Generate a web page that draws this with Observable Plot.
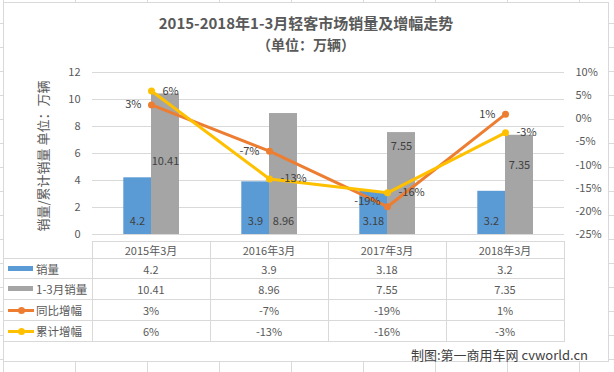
<!DOCTYPE html>
<html>
<head>
<meta charset="utf-8">
<script src="https://cdn.jsdelivr.net/npm/d3@7"></script>
<script src="https://cdn.jsdelivr.net/npm/@observablehq/plot@0.6"></script>
<style>
  html, body { margin: 0; padding: 0; }
  body {
    width: 614px; height: 372px; position: relative; overflow: hidden;
    background-color: #fff;
    background-image: linear-gradient(to right, #dadada 1px, transparent 1px),
                      linear-gradient(to bottom, #dadada 1px, transparent 1px);
    background-size: 72px 24px;
    background-position: 3px 23px;
    font-family: "Noto Sans CJK SC", "Noto Sans", sans-serif;
  }
  #frame { position: absolute; left: 3px; top: 2px; width: 604px; height: 358px; border: 1px solid #d9d9d9; background: #fff; }
  #title { position: absolute; left: 3px; width: 606px; top: 13px; text-align: center; font-size: 15px; font-weight: 700; color: #595959; line-height: 20px; }
  #subtitle { position: absolute; left: 3px; width: 606px; top: 34px; text-align: center; font-size: 14px; font-weight: 700; color: #595959; line-height: 20px; }
  #ytitle { position: absolute; left: 43px; top: 156px; width: 0; height: 0; }
  #ytitle span { position: absolute; left: 0; top: 0; transform: translate(-50%, -50%) rotate(-90deg); white-space: nowrap; font-size: 13px; color: #595959; line-height: 16px; }
  #chart { position: absolute; left: 0; top: 55px; }
  #footer { position: absolute; right: 26px; top: 346px; font-size: 13px; color: #404040; line-height: 18px; }
  .hl { position: absolute; height: 1px; background: #d9d9d9; }
  .vl { position: absolute; width: 1px; background: #d9d9d9; }
  .cell { position: absolute; text-align: center; font-size: 11px; color: #595959; line-height: 16px; white-space: nowrap; }
  .leg { position: absolute; font-size: 11.5px; color: #595959; line-height: 16px; white-space: nowrap; }
</style>
</head>
<body>
<div id="frame"></div>
<div id="title">2015-2018年1-3月轻客市场销量及增幅走势</div>
<div id="subtitle">（单位：万辆）</div>
<div id="chart"></div>
<div id="ytitle"><span>销量/累计销量 单位：万辆</span></div>
<div id="table"></div>
<div id="footer">制图:第一商用车网 cvworld.cn</div>
<script>
// ---- data ----
const categories = ["2015年3月", "2016年3月", "2017年3月", "2018年3月"];
const sales = [4.2, 3.9, 3.18, 3.2];            // 销量
const ytdSales = [10.41, 8.96, 7.55, 7.35];      // 1-3月销量
const yoyGrowth = [3, -7, -19, 1];               // 同比增幅 (%)
const ytdGrowth = [6, -13, -16, -3];             // 累计增幅 (%)
const leftTicks = [0, 2, 4, 6, 8, 10, 12];
const rightTicks = [10, 5, 0, -5, -10, -15, -20, -25];
const seriesNames = ["销量", "1-3月销量", "同比增幅", "累计增幅"];
// where the bar value labels sit in the reference (in 万辆 units)
const salesLabelAt = [1, 1, 1, 1];
const ytdLabelAt = [5.4, 1, 6.54, 5.1];

const colors = { sales: "#5B9BD5", ytd: "#A5A5A5", yoy: "#ED7D31", ytdG: "#FFC000" };

const pctMin = -25, pctMax = 10, leftMax = 12;
const pctToLeft = p => (p - pctMin) / (pctMax - pctMin) * leftMax;
const leftToPct = v => v / leftMax * (pctMax - pctMin) + pctMin;

const rows = categories.map((c, i) => ({
  cat: c, sales: sales[i], ytd: ytdSales[i], yoy: yoyGrowth[i], ytdG: ytdGrowth[i],
  sl: salesLabelAt[i], yl: ytdLabelAt[i]
}));

const labelFont = 11, labelFill = "#404040";

const plot = Plot.plot({
  width: 614, height: 190,
  marginLeft: 92, marginRight: 50, marginTop: 17, marginBottom: 11,
  style: { fontFamily: "'Noto Sans CJK SC', 'Noto Sans', sans-serif", background: "transparent", overflow: "visible" },
  x: { type: "band", domain: categories, padding: 0, axis: null },
  y: { domain: [0, leftMax], axis: null },
  marks: [
    Plot.gridY(leftTicks, { stroke: "#d9d9d9", strokeOpacity: 1 }),
    Plot.axisY(leftTicks, { anchor: "left", tickSize: 0, tickPadding: 12, fontSize: 11, color: "#595959", label: null, tickFormat: d => String(d) }),
    Plot.axisY(rightTicks.map(pctToLeft), { anchor: "right", tickSize: 0, tickPadding: 11, fontSize: 11, color: "#595959", label: null, tickFormat: v => `${Math.round(leftToPct(v))}%` }),
    Plot.barY(rows, { x: "cat", y: "sales", fill: colors.sales, insetLeft: 31.3, insetRight: 59 }),
    Plot.barY(rows, { x: "cat", y: "ytd", fill: colors.ytd, insetLeft: 59, insetRight: 31 }),
    Plot.text(rows, { x: "cat", y: "sl", text: d => String(d.sales), dx: -14, fontSize: labelFont, fill: labelFill }),
    Plot.text(rows, { x: "cat", y: "yl", text: d => String(d.ytd), dx: 14, fontSize: labelFont, fill: labelFill }),
    Plot.line(rows, { x: "cat", y: d => pctToLeft(d.yoy), stroke: colors.yoy, strokeWidth: 3 }),
    Plot.dot(rows, { x: "cat", y: d => pctToLeft(d.yoy), r: 3.5, fill: colors.yoy, stroke: "none" }),
    Plot.line(rows, { x: "cat", y: d => pctToLeft(d.ytdG), stroke: colors.ytdG, strokeWidth: 3 }),
    Plot.dot(rows, { x: "cat", y: d => pctToLeft(d.ytdG), r: 3.5, fill: colors.ytdG, stroke: "none" }),
    Plot.text(rows.filter(d => d.yoy > -15), { x: "cat", y: d => pctToLeft(d.yoy), text: d => `${d.yoy}%`, textAnchor: "end", dx: -10, fontSize: labelFont, fill: labelFill }),
    Plot.text(rows.filter(d => d.yoy <= -15), { x: "cat", y: d => pctToLeft(d.yoy), text: d => `${d.yoy}%`, textAnchor: "end", dx: -7, dy: -5, fontSize: labelFont, fill: labelFill }),
    Plot.text(rows, { x: "cat", y: d => pctToLeft(d.ytdG), text: d => `${d.ytdG}%`, textAnchor: "start", dx: 11, fontSize: labelFont, fill: labelFill })
  ]
});
document.getElementById("chart").appendChild(plot);

// ---- data table under the chart, aligned to the plot's x scale ----
const sx = plot.scale("x");
const bw = sx.bandwidth;
const bandStarts = categories.map(c => sx.apply(c));
const tableLeft = 3, tableRight = bandStarts[3] + bw;
const rowLines = [241, 258, 278, 299, 320, 341];
const tbl = document.getElementById("table");
function add(cls, style, html) {
  const el = document.createElement("div");
  el.className = cls;
  Object.assign(el.style, style);
  if (html != null) el.innerHTML = html;
  tbl.appendChild(el);
  return el;
}
// horizontal lines
rowLines.forEach((y, i) => {
  const x0 = i === 0 ? bandStarts[0] : tableLeft;
  add("hl", { left: x0 + "px", top: y + "px", width: (tableRight - x0 + 1) + "px" });
});
// vertical lines
add("vl", { left: tableLeft + "px", top: rowLines[1] + "px", height: (rowLines[5] - rowLines[1] + 1) + "px" });
bandStarts.concat([tableRight]).forEach(x => {
  add("vl", { left: Math.round(x) + "px", top: rowLines[0] + "px", height: (rowLines[5] - rowLines[0] + 1) + "px" });
});
// header
categories.forEach((c, i) => {
  add("cell", { left: bandStarts[i] + "px", width: bw + "px", top: ((rowLines[0] + rowLines[1]) / 2 - 8 + 0.5) + "px" }, c);
});
const tableVals = [
  sales.map(String),
  ytdSales.map(String),
  yoyGrowth.map(v => `${v}%`),
  ytdGrowth.map(v => `${v}%`)
];
tableVals.forEach((vals, r) => {
  const yc = (rowLines[r + 1] + rowLines[r + 2]) / 2 + 0.5;
  vals.forEach((v, i) => {
    add("cell", { left: bandStarts[i] + "px", width: bw + "px", top: (yc - 8) + "px" }, v);
  });
  // legend key
  const key = [colors.sales, colors.ytd, colors.yoy, colors.ytdG][r];
  if (r < 2) {
    add("", { position: "absolute", left: "8px", top: (yc - 3) + "px", width: "25px", height: "5px", background: key });
  } else {
    add("", { position: "absolute", left: "8px", top: (yc - 1.5) + "px", width: "26px", height: "3px", background: key });
    add("", { position: "absolute", left: "17.5px", top: (yc - 3.5) + "px", width: "7px", height: "7px", borderRadius: "50%", background: key });
  }
  add("leg", { left: "36px", top: (yc - 8) + "px" }, seriesNames[r]);
});
</script>
</body>
</html>
